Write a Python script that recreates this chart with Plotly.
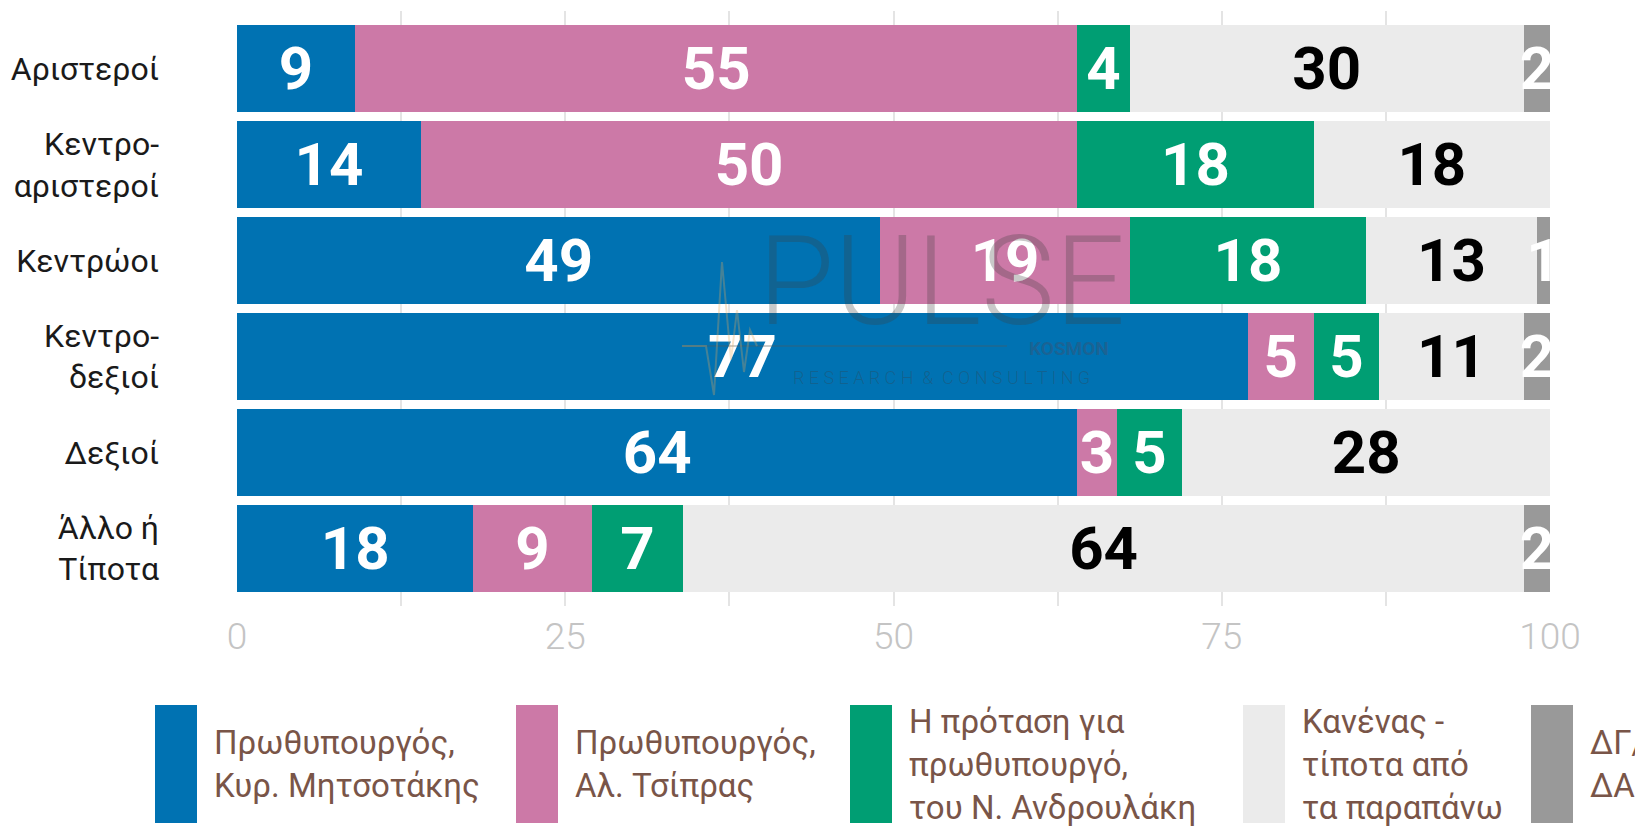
import plotly.graph_objects as go

# ---------------- data ----------------
categories = ["Αριστεροί", "Κεντρο-<br>αριστεροί", "Κεντρώοι", "Κεντρο-<br>δεξιοί", "Δεξιοί", "Άλλο ή<br>Τίποτα"]
series_names = [
    "Πρωθυπουργός,<br>Κυρ. Μητσοτάκης",
    "Πρωθυπουργός,<br>Αλ. Τσίπρας",
    "Η πρόταση για<br>πρωθυπουργό,<br>του Ν. Ανδρουλάκη",
    "Κανένας -<br>τίποτα από<br>τα παραπάνω",
    "ΔΓ/<br>ΔΑ",
]
mitsotakis = [9, 14, 49, 77, 64, 18]
tsipras = [55, 50, 19, 5, 3, 9]
androulakis = [4, 18, 18, 5, 5, 7]
kanenas = [30, 18, 13, 11, 28, 64]
dgda = [2, 0, 1, 2, 0, 2]
x_tick_values = [0, 25, 50, 75, 100]
x_tick_labels = ["0", "25", "50", "75", "100"]
x_minor_grid = [12.5, 37.5, 62.5, 87.5]

series_values = [mitsotakis, tsipras, androulakis, kanenas, dgda]
colors = ["#0072B2", "#CC79A7", "#009E73", "#EBEBEB", "#999999"]
text_colors = ["white", "white", "white", "black", "white"]

FONT = "Roboto, 'Open Sans', sans-serif"

# plot area in pixels
W, H = 1635, 826
L, R, T, B = 237, 1550, 11, 606


def px_x(x):
    return (x - L) / (R - L)


def px_y(y):
    return (B - y) / (B - T)


fig = go.Figure()
for name, vals, col, tcol in zip(series_names, series_values, colors, text_colors):
    fig.add_trace(go.Bar(
        y=categories,
        x=vals,
        orientation="h",
        name=name.replace("<br>", " "),
        marker=dict(color=col, line=dict(width=0)),
        text=[str(v) if v > 0 else "" for v in vals],
        textposition="inside",
        insidetextanchor="middle",
        textangle=0,
        constraintext="none",
        cliponaxis=True,
        textfont=dict(family=FONT, size=60, color=tcol, weight="bold"),
        showlegend=False,
        hoverinfo="skip",
    ))

# ---------------- manual legend ----------------
legend_rect_left = [155, 516, 850, 1243, 1531]
shapes = []
annotations = []
for name, col, xl in zip(series_names, colors, legend_rect_left):
    shapes.append(dict(
        type="rect", xref="paper", yref="paper",
        x0=px_x(xl), x1=px_x(xl + 42), y0=px_y(705), y1=px_y(823),
        fillcolor=col, line=dict(width=0), layer="above",
    ))
    annotations.append(dict(
        xref="paper", yref="paper", x=px_x(xl + 57), y=px_y(764),
        xanchor="left", yanchor="middle", align="left", showarrow=False,
        text=name, font=dict(family=FONT, size=33, color="#795548"),
    ))

# ---------------- watermark ----------------
annotations.append(dict(
    xref="paper", yref="paper", x=px_x(941), y=px_y(281),
    xanchor="center", yanchor="middle", showarrow=False, text="PULSE",
    font=dict(family="Roboto", size=124, color="rgba(60,60,60,0.28)", weight=300),
))
annotations.append(dict(
    xref="paper", yref="paper", x=px_x(1111), y=px_y(348),
    xanchor="right", yanchor="middle", showarrow=False, text="KOSMON",
    font=dict(family="Roboto", size=19, color="rgba(60,80,110,0.45)", weight="bold"),
))
annotations.append(dict(
    xref="paper", yref="paper", x=px_x(941), y=px_y(377),
    xanchor="center", yanchor="middle", showarrow=False,
    text="R E S E A R C H  &  C O N S U L T I N G",
    font=dict(family="Roboto", size=18, color="rgba(60,60,60,0.3)", weight=300),
))
shapes.append(dict(
    type="line", xref="paper", yref="paper",
    x0=px_x(682), x1=px_x(1007), y0=px_y(346), y1=px_y(346),
    line=dict(color="rgba(80,90,90,0.3)", width=2), layer="above",
))
pulse_pts = [(682, 346), (706, 346), (714, 395), (722, 262), (731, 360), (737, 310), (744, 372), (750, 330), (757, 346)]
path = "M " + " L ".join(f"{px_x(x):.5f},{px_y(y):.5f}" for x, y in pulse_pts)
shapes.append(dict(
    type="path", xref="paper", yref="paper", path=path,
    line=dict(color="rgba(230,170,90,0.3)", width=2), layer="above",
))

fig.update_layout(
    width=W, height=H,
    margin=dict(l=L, r=W - R, t=T, b=H - B, pad=0, autoexpand=False),
    barmode="stack",
    bargap=0.1,
    plot_bgcolor="white",
    paper_bgcolor="white",
    shapes=shapes,
    annotations=annotations,
    xaxis=dict(
        range=[0, 100],
        tickvals=x_tick_values,
        ticktext=x_tick_labels,
        showgrid=True, gridcolor="#E4E4E4", gridwidth=2,
        minor=dict(tickvals=x_minor_grid, showgrid=True, gridcolor="#E4E4E4", gridwidth=2),
        zeroline=False, showline=False, ticks="",
        tickfont=dict(family=FONT, size=37, color="#C4C4C4", weight=300),
        ticklabelstandoff=5,
        automargin=False,
        fixedrange=True,
    ),
    yaxis=dict(
        type="category",
        categoryorder="array", categoryarray=categories,
        range=[5.6, -0.6],
        showgrid=False, zeroline=False, showline=False, ticks="",
        tickfont=dict(family=FONT, size=32, color="#1a1a1a"),
        ticklabelstandoff=77,
        automargin=False,
        fixedrange=True,
    ),
)

fig.write_html(
    "out.html",
    config={"displayModeBar": False},
    post_script="document.body.style.margin='0';document.body.style.overflow='hidden';",
)
